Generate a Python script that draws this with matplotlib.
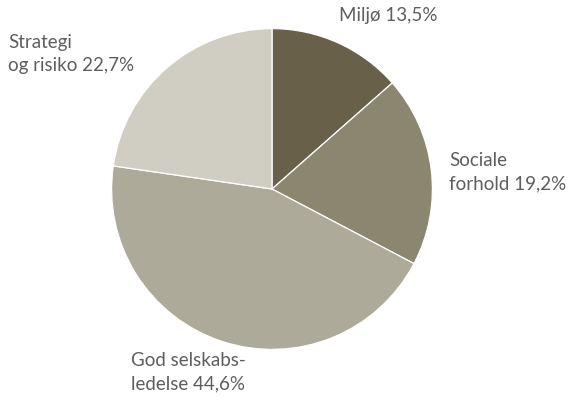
import matplotlib
matplotlib.use('Agg')
import matplotlib.pyplot as plt

plt.rcParams['font.family'] = ['Lato', 'DejaVu Sans']

# data
labels = ['Miljø 13,5%', 'Sociale\nforhold 19,2%', 'God selskabs-\nledelse 44,6%', 'Strategi\nog risiko 22,7%']
values = [13.5, 19.2, 44.6, 22.7]
colors = ['#686049', '#8b8670', '#aeaa99', '#d0cec2']

W, H = 568, 403
fig = plt.figure(figsize=(W / 100, H / 100), dpi=100)

# pie centre (272,189) px, radius 162 px
cx, cy, r = 272, 189, 162
ax = fig.add_axes([(cx - r) / W, (H - cy - r) / H, 2 * r / W, 2 * r / H])
ax.pie(values, colors=colors, startangle=90, counterclock=False,
       wedgeprops=dict(edgecolor='white', linewidth=0.9))
ax.set_aspect('equal')
ax.set_xlim(-1.01, 1.01)
ax.set_ylim(-1.01, 1.01)
ax.axis('off')

# label positions (top-left corner, px)
label_pos = [(339, 7), (449, 152), (131, 352), (8, 34)]
for txt, (x, y) in zip(labels, label_pos):
    fig.text(x / W, 1 - y / H, txt, ha='left', va='top', fontsize=13.5,
             color='#5e5e5e', linespacing=1.45)

fig.savefig('out.png', dpi=100)
